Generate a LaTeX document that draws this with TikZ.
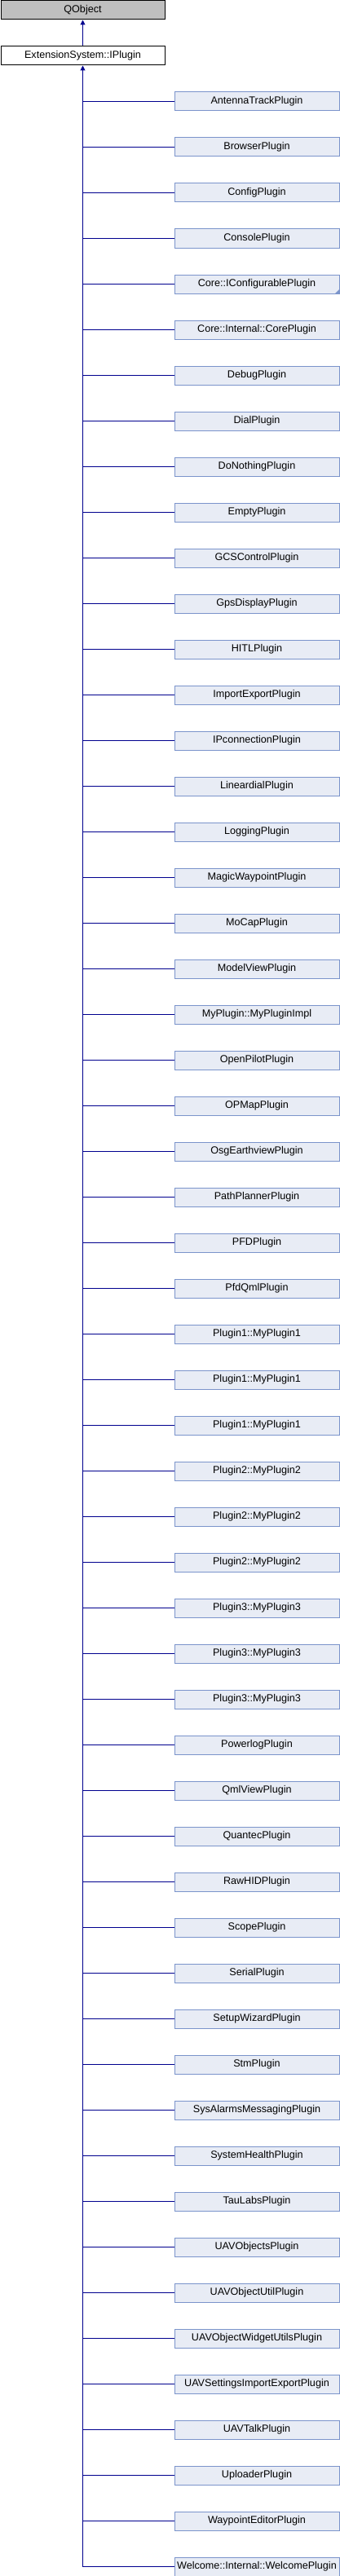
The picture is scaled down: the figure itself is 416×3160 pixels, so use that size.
\documentclass[tikz,border=0pt]{standalone}
\usepackage{fontspec}
\setmainfont{Liberation Sans}
\usetikzlibrary{arrows.meta}
\definecolor{cLine}{HTML}{00008E}
\definecolor{cBox}{HTML}{E8ECF5}
\definecolor{cBoxLine}{HTML}{7B94CB}
\definecolor{cRoot}{HTML}{BFBFBF}
\tikzset{
  cls/.style={draw, rectangle, inner sep=0pt, anchor=north west,
    minimum height=23pt, font=\fontsize{12.6}{15}\selectfont, line width=1pt},
  rootcls/.style={cls, draw=black, fill=cRoot, minimum width=201pt},
  basecls/.style={cls, draw=black, fill=white, minimum width=201pt},
  derived/.style={cls, draw=cBoxLine, fill=cBox, minimum width=202pt},
  edge/.style={draw=cLine, line width=1pt},
  inherit/.style={edge, {Triangle[length=6pt,width=6pt]}-},
}

\begin{document}
\begin{tikzpicture}[x=1pt,y=-1pt]
    \useasboundingbox (0,0) rectangle (416,3160);
    % --- base classes ---
    \node[rootcls] (qobj) at (0.5,0.5) {QObject};
    \node[basecls] (base) at (0.5,56.5) {ExtensionSystem::IPlugin};
    \draw[inherit] (qobj.south) -- (base.north);
    % --- derived plugins ---
    \foreach \name [count=\i] in {AntennaTrackPlugin, BrowserPlugin, ConfigPlugin,
      ConsolePlugin, Core::IConfigurablePlugin, Core::Internal::CorePlugin,
      DebugPlugin, DialPlugin, DoNothingPlugin, EmptyPlugin, GCSControlPlugin,
      GpsDisplayPlugin, HITLPlugin, ImportExportPlugin, IPconnectionPlugin,
      LineardialPlugin, LoggingPlugin, MagicWaypointPlugin, MoCapPlugin,
      ModelViewPlugin, MyPlugin::MyPluginImpl, OpenPilotPlugin, OPMapPlugin,
      OsgEarthviewPlugin, PathPlannerPlugin, PFDPlugin, PfdQmlPlugin,
      Plugin1::MyPlugin1, Plugin1::MyPlugin1, Plugin1::MyPlugin1,
      Plugin2::MyPlugin2, Plugin2::MyPlugin2, Plugin2::MyPlugin2,
      Plugin3::MyPlugin3, Plugin3::MyPlugin3, Plugin3::MyPlugin3,
      PowerlogPlugin, QmlViewPlugin, QuantecPlugin, RawHIDPlugin, ScopePlugin,
      SerialPlugin, SetupWizardPlugin, StmPlugin, SysAlarmsMessagingPlugin,
      SystemHealthPlugin, TauLabsPlugin, UAVObjectsPlugin, UAVObjectUtilPlugin,
      UAVObjectWidgetUtilsPlugin, UAVSettingsImportExportPlugin, UAVTalkPlugin,
      UploaderPlugin, WaypointEditorPlugin, Welcome::Internal::WelcomePlugin} {
      \node[derived] (c\i) at (213.5,{112.5+56*(\i-1)}) {\name};
      \draw[edge] (c\i.west) -- (c\i.west -| base.south);
    }
    % trunk up to the base class
    \draw[inherit] (base.south) -- (base.south |- c55.west);
    % more subclasses marker
    \fill[cBoxLine] (c5.south east) -- ++(-6,0) -- ++(6,-6) -- cycle;
  \end{tikzpicture}
\end{document}
